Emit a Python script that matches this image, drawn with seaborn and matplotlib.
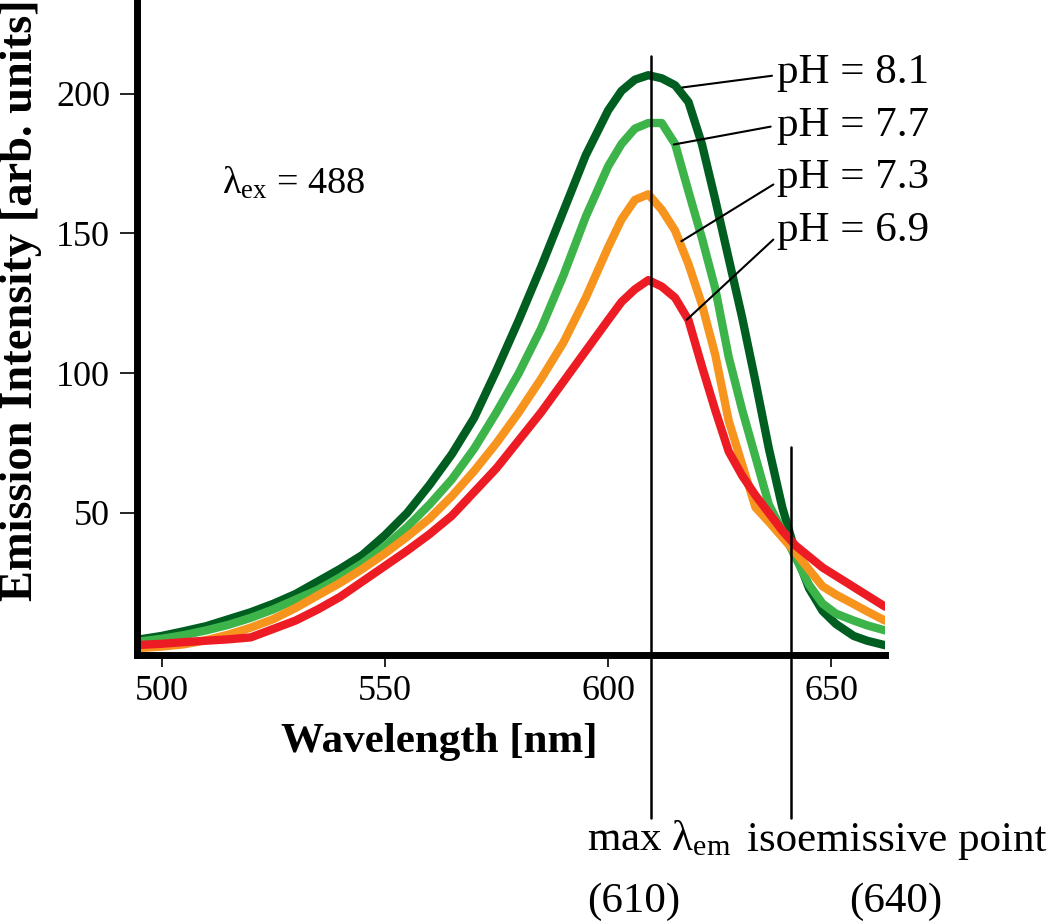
import matplotlib
matplotlib.use('Agg')
import numpy as np
import pandas as pd
import matplotlib.pyplot as plt
import seaborn as sns

wavelength = [494, 500, 505, 510, 515, 520, 525, 530, 535, 540, 545, 550, 555, 560,
              565, 570, 575, 580, 585, 590, 595, 600, 603, 606, 609, 612, 615, 618,
              621, 624, 627, 630, 633, 636, 639, 642, 645, 648, 651, 655, 658, 662]

# intensité d'émission par pH (valeurs estimées à l'oeil)
ph_81 = [4.5, 6.0, 7.7, 9.5, 12.0, 14.5, 17.5, 21.0, 25.5, 30.0, 35.0, 42.0, 50.0, 60.0,
         71.0, 84.0, 101.0, 119.0, 138.0, 158.0, 178.0, 194.0, 201.0, 205.0, 206.6, 205.5,
         203.0, 197.0, 182.0, 162.0, 141.0, 120.0, 97.0, 73.0, 52.0, 35.6, 23.0, 15.0,
         10.3, 6.0, 4.3, 2.7]
ph_77 = [3.8, 5.0, 6.3, 8.0, 10.0, 12.5, 15.5, 19.0, 22.5, 27.0, 32.0, 38.0, 45.0, 53.0,
         62.0, 73.0, 86.0, 100.0, 116.0, 135.0, 156.0, 174.0, 182.0, 187.5, 189.5, 189.5,
         182.0, 165.0, 148.4, 130.2, 105.8, 87.0, 70.0, 53.0, 43.6, 34.0, 24.3, 17.6,
         14.0, 11.5, 9.8, 8.0]
ph_73 = [1.6, 2.2, 3.0, 4.5, 6.5, 9.0, 12.0, 16.0, 20.5, 25.0, 30.0, 35.5, 41.5, 48.0,
         56.0, 65.0, 75.0, 86.0, 98.0, 111.0, 127.0, 145.0, 155.0, 162.0, 164.0, 158.5,
         151.0, 139.0, 124.6, 106.5, 83.0, 67.4, 52.0, 46.8, 41.3, 35.8, 29.7, 23.8,
         20.8, 17.4, 14.8, 11.5]
ph_69 = [2.7, 3.2, 3.8, 4.3, 4.8, 5.5, 8.5, 11.5, 15.5, 20.0, 25.5, 31.0, 36.5, 42.4,
         49.0, 57.5, 66.0, 76.0, 86.0, 97.0, 108.0, 119.0, 125.5, 130.0, 133.3, 131.0,
         127.0, 119.0, 102.5, 86.7, 72.0, 63.4, 56.3, 50.0, 43.7, 38.3, 34.4, 30.5,
         27.5, 23.5, 20.5, 16.5]

ph_values = ['8.1', '7.7', '7.3', '6.9']
ph_colors = ['#005e20', '#3cb44a', '#f7941d', '#ed1c24']

x_ticks = [500, 550, 600, 650]
y_ticks = [50, 100, 150, 200]

max_em = 609.5   # position du trait "max lambda_em"
iso_em = 640.9   # position du point isoémissif

sns.set_theme(style='ticks')
plt.rcParams['font.family'] = ['Liberation Serif', 'DejaVu Serif']
plt.rcParams['mathtext.fontset'] = 'custom'
plt.rcParams['mathtext.rm'] = 'Liberation Serif'
plt.rcParams['mathtext.it'] = 'Liberation Serif:italic'
plt.rcParams['lines.solid_joinstyle'] = 'round'
for key in ['text.color', 'axes.labelcolor', 'xtick.color', 'ytick.color']:
    plt.rcParams[key] = 'black'

df = pd.DataFrame({'wavelength': wavelength, '8.1': ph_81, '7.7': ph_77,
                   '7.3': ph_73, '6.9': ph_69})
df = df.melt(id_vars='wavelength', var_name='pH', value_name='intensity')

fig = plt.figure(figsize=(10.5, 9.21), dpi=100)
ax = fig.add_axes([136.5 / 1050, 1 - 654.7 / 921, (885 - 136.5) / 1050, 654.7 / 921])

sns.lineplot(data=df, x='wavelength', y='intensity', hue='pH', hue_order=ph_values,
             palette=dict(zip(ph_values, ph_colors)), linewidth=6, legend=False, ax=ax)

ax.set_xlim(494.4, 662)
ax.set_ylim(-0.7, 233.5)
ax.set_xticks(x_ticks)
ax.set_yticks(y_ticks)
ax.set_xlabel('')
ax.set_ylabel('')
for side in ['top', 'right']:
    ax.spines[side].set_visible(False)
for side in ['left', 'bottom']:
    ax.spines[side].set_linewidth(5)
    ax.spines[side].set_color('black')
ax.tick_params(axis='y', direction='out', length=12.5, width=1.2, labelsize=26, pad=6.5)
ax.tick_params(axis='x', direction='out', length=8.6, width=1.2, labelsize=26, pad=6)

# traits verticaux qui descendent sous l'axe
ax.plot([max_em, max_em], [-59.1, 213.5], color='black', lw=1.8, clip_on=False, zorder=5)
ax.plot([iso_em, iso_em], [-59.1, 73.6], color='black', lw=1.8, clip_on=False, zorder=5)

# étiquettes pH avec leurs traits de rappel
label_y = [203.9, 185.0, 166.3, 147.3]
leaders = [((636.7, 206.4), (616.6, 202.2)),
           ((636.4, 188.2), (614.7, 181.8)),
           ((637.0, 167.5), (616.4, 147.2)),
           ((637.0, 147.8), (617.6, 119.1))]
for ph, ly, (p0, p1) in zip(ph_values, label_y, leaders):
    ax.text(637.9, ly, f'pH = {ph}', fontsize=31, va='baseline', ha='left')
    ax.plot([p0[0], p1[0]], [p0[1], p1[1]], color='black', lw=1.5, zorder=5)

fig.text(222 / 1050, 1 - 194 / 921, r'$\mathrm{\lambda}_\mathrm{ex}$ = 488', fontsize=27.5,
         va='baseline', ha='left')

fig.text(439 / 1050, 1 - 752 / 921, 'Wavelength [nm]', fontsize=31, fontweight='bold',
         ha='center', va='baseline')
fig.text(21 / 1050, 1 - 300 / 921, 'Emission Intensity [arb. units]', fontsize=33.5,
         fontweight='bold', rotation=90, ha='center', va='center')

fig.text(586.7 / 1050, 1 - 850.7 / 921, r'max $\mathrm{\lambda}_\mathrm{em}$', fontsize=31,
         ha='left', va='baseline')
fig.text(586.7 / 1050, 1 - 911.7 / 921, '(610)', fontsize=31, ha='left', va='baseline')
fig.text(746.7 / 1050, 1 - 850.7 / 921, 'isoemissive point', fontsize=31, ha='left', va='baseline')
fig.text(896 / 1050, 1 - 911.7 / 921, '(640)', fontsize=31, ha='center', va='baseline')

plt.savefig('out.png', dpi=100)
